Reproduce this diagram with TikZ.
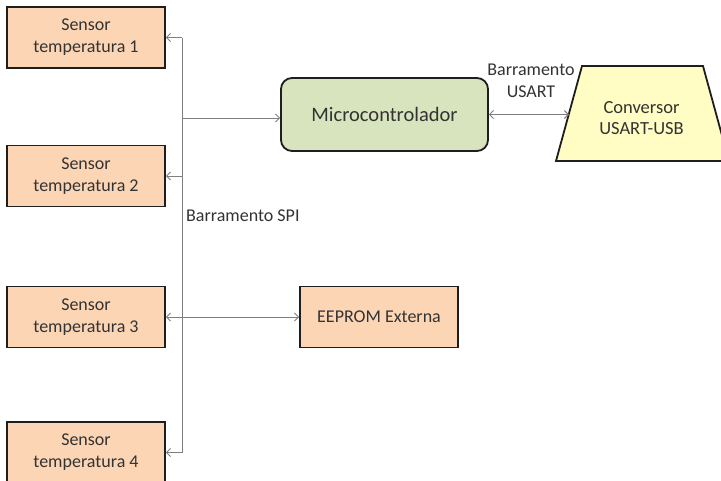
\documentclass[tikz,border=0pt]{standalone}
\usepackage{fontspec}
\setmainfont{Carlito}
\usetikzlibrary{arrows.meta}
\definecolor{orangefill}{HTML}{FCD5B5}
\definecolor{greenfill}{HTML}{D7E4BD}
\definecolor{yellowfill}{HTML}{FFFCC4}
\definecolor{bordercol}{HTML}{1E1E1E}
\definecolor{linecol}{HTML}{7F7F7F}
\definecolor{textcol}{HTML}{333333}
\tikzset{
  sensorbox/.style={draw=bordercol, line width=1.8pt, fill=orangefill, minimum width=158pt, minimum height=61pt, align=center, inner sep=0pt, text=textcol, font=\fontsize{18}{22}\selectfont},
  microbox/.style={draw=bordercol, line width=1.8pt, fill=greenfill, rounded corners=11pt, minimum width=207pt, minimum height=73pt, inner sep=0pt, text=textcol, font=\fontsize{20.5}{24}\selectfont},
  convshape/.style={draw=bordercol, line width=1.8pt, fill=yellowfill, line join=miter},
  convtext/.style={inner sep=0pt, align=center, text=textcol, font=\fontsize{18.5}{21}\selectfont},
  buslbl/.style={text=textcol, inner sep=0pt, align=center, font=\fontsize{18}{22}\selectfont},
  conn/.style={draw=linecol, line width=0.9pt, -{Straight Barb[length=4pt,width=8pt]}},
  conn2/.style={draw=linecol, line width=0.9pt, {Straight Barb[length=4pt,width=8pt]}-{Straight Barb[length=4pt,width=8pt]}},
  busline/.style={draw=linecol, line width=0.9pt}
}
\begin{document}
\begin{tikzpicture}[x=1pt,y=-1pt]
\useasboundingbox (0,0) rectangle (721,480);
\fill[white] (0,0) rectangle (721,480);
\node[sensorbox] (s1) at (86,37.5) {Sensor\\temperatura 1};
\node[sensorbox] (s2) at (86,176) {Sensor\\temperatura 2};
\node[sensorbox] (s3) at (86,317) {Sensor\\temperatura 3};
\node[sensorbox] (s4) at (86,452.5) {Sensor\\temperatura 4};
\node[microbox] (m) at (384.5,114.5) {Microcontrolador};
\coordinate (ctl) at (582,66);
\coordinate (ctr) at (703,66);
\coordinate (cbr) at (729,161);
\coordinate (cbl) at (556,161);
\draw[convshape] (ctl) -- (ctr) -- (cbr) -- (cbl) -- cycle;
\coordinate (cin) at (569,114.5);
\node[convtext] (c) at (641.5,118) {Conversor\\USART-USB};
\node[sensorbox] (e) at (379,317) {EEPROM Externa};
\coordinate (bx) at (182,0);
\coordinate (bm) at (182,118);
\draw[busline] (s1.east -| bx) -- (s4.east -| bx);
\draw[conn] (s1.east -| bx) -- (s1.east);
\draw[conn] (s2.east -| bx) -- (s2.east);
\draw[conn] (s4.east -| bx) -- (s4.east);
\draw[conn2] (s3.east) -- (e.west);
\draw[conn] (bm) -- (bm -| m.west);
\draw[conn2] (m.east) -- (cin);
\node[buslbl, anchor=west] (spi) at (186,216) {Barramento SPI};
\node[buslbl] (usart) at (531,81) {Barramento\\USART};
\end{tikzpicture}
\end{document}
